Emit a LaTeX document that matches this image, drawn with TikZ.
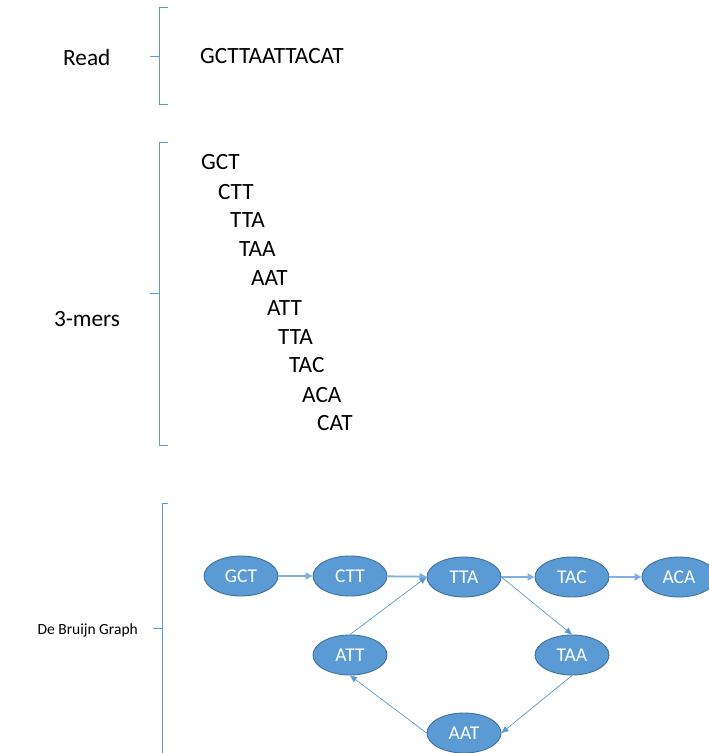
\documentclass[tikz,border=0pt]{standalone}
\usepackage{fontspec}
\setmainfont{Carlito}
\usetikzlibrary{shapes.geometric,arrows.meta}
\definecolor{nodefill}{HTML}{5B9BD5}
\definecolor{nodeline}{HTML}{41719C}
\definecolor{edgecol}{HTML}{5B9BD5}
\definecolor{hedgecol}{HTML}{7FB1E0}
\tikzset{
  x=1pt, y=-1pt,
  dbnode/.style={ellipse, fill=nodefill, draw=nodeline, line width=0.9pt,
    minimum width=74pt, minimum height=40pt, inner sep=0pt,
    text=white, font=\fontsize{19.5}{20}\selectfont},
  brack/.style={draw=edgecol, line width=0.9pt},
  bigtxt/.style={font=\fontsize{23.3}{25}\selectfont, inner sep=0pt},
  kmer/.style={bigtxt, anchor=base west},
  hedge/.style={draw=hedgecol, line width=1.8pt, -{Triangle[length=7pt,width=7pt]}},
  dedge/.style={draw=edgecol, line width=0.7pt, -{Triangle[length=7pt,width=6pt]}}
}
\begin{document}
\begin{tikzpicture}
\useasboundingbox (0,0) rectangle (709,753);
\begin{scope}
\clip (0,0) rectangle (709,753);
% brackets
\draw[brack] (168,7) -- (159,7) -- (159,104) -- (168,104);
\draw[brack] (150,56) -- (159,56);
\draw[brack] (168,142) -- (159,142) -- (159,445) -- (168,445);
\draw[brack] (150,293) -- (159,293);
\draw[brack] (168,503) -- (162,503) -- (162,760);
\draw[brack] (153,628) -- (162,628);

% labels
\node[bigtxt, anchor=west] (lread) at (63,57) {Read};
\node[bigtxt, anchor=west] (read) at (200,56) {GCTTAATTACAT};
\node[bigtxt] (lkmers) at (87,319) {3-mers};
\node[font=\fontsize{15.5}{16}\selectfont, inner sep=0pt, anchor=east] (ldbg) at (138,630) {De Bruijn Graph};

% k-mers
\node[kmer] (k1) at (201,169) {GCT};
\node[kmer] (k2) at (218,199) {CTT};
\node[kmer] (k3) at (230,227) {TTA};
\node[kmer] (k4) at (239,256) {TAA};
\node[kmer] (k5) at (251,285) {AAT};
\node[kmer] (k6) at (267,315) {ATT};
\node[kmer] (k7) at (278,344) {TTA};
\node[kmer] (k8) at (289,372) {TAC};
\node[kmer] (k9) at (302,402) {ACA};
\node[kmer] (k10) at (317,430) {CAT};

% graph
\node[dbnode] (gct) at (241,576) {GCT};
\node[dbnode] (ctt) at (350,576) {CTT};
\node[dbnode] (tta) at (464,577) {TTA};
\node[dbnode] (tac) at (572,577) {TAC};
\node[dbnode] (aca) at (679,577) {ACA};
\node[dbnode] (att) at (350,655) {ATT};
\node[dbnode] (taa) at (572,655) {TAA};
\node[dbnode] (aat) at (464,733) {AAT};

\draw[hedge] (gct) -- (ctt);
\draw[hedge] (ctt) -- (tta);
\draw[hedge] (tta) -- (tac);
\draw[hedge] (tac) -- (aca);
\draw[dedge] (tta.east) -- (taa.north);
\draw[dedge] (taa.south) -- (aat.east);
\draw[dedge] (aat.west) -- (att.south);
\draw[dedge] (att.north) -- (tta.west);
\end{scope}
\end{tikzpicture}
\end{document}
